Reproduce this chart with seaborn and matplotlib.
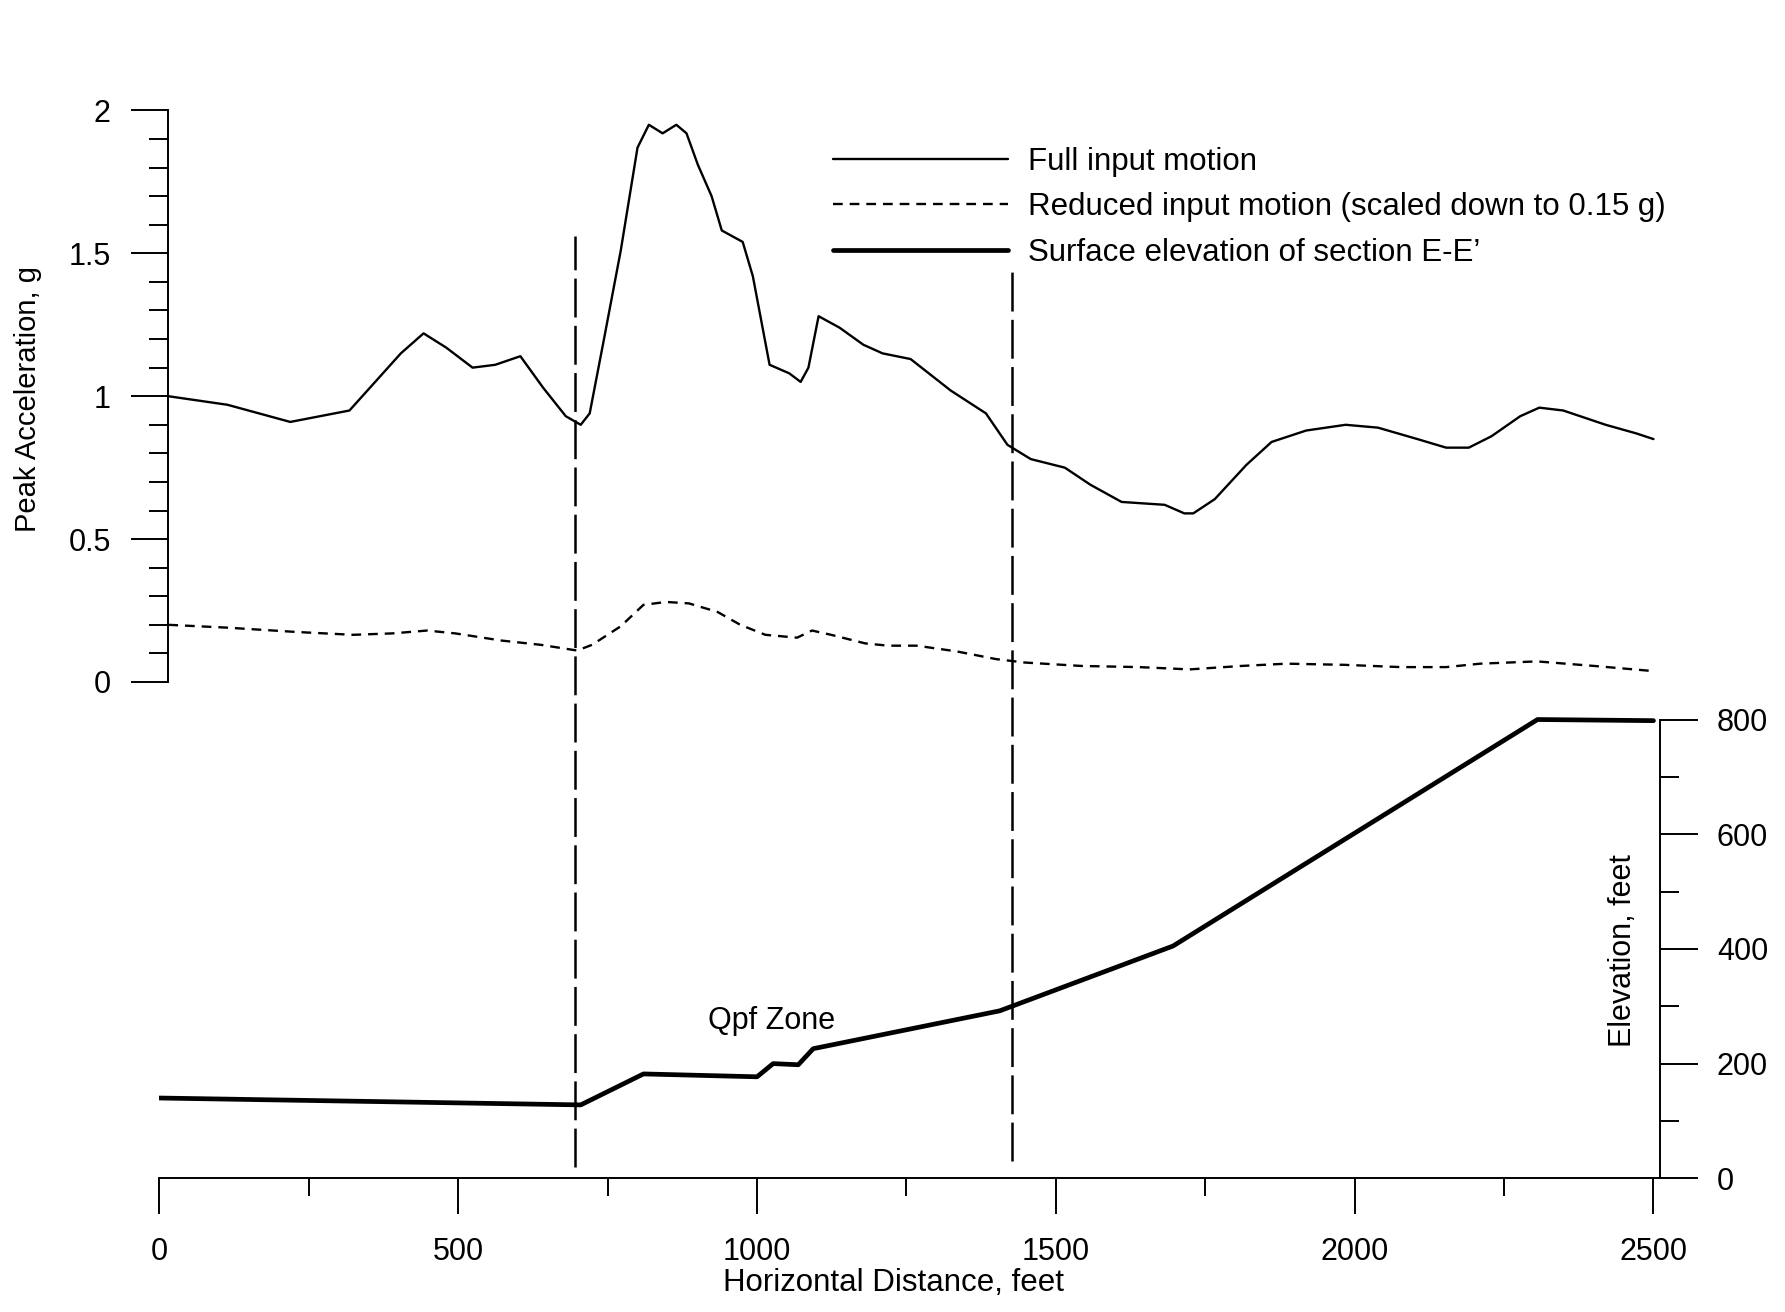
import matplotlib
matplotlib.use("Agg")
import matplotlib.pyplot as plt
import seaborn as sns
import numpy as np
from matplotlib.lines import Line2D
from matplotlib.ticker import FixedLocator

# ---------------- data ----------------
dist_full = [15, 114, 219, 318, 404, 442, 480, 524, 562, 604, 642, 680, 705, 720,
             743, 772, 800, 819, 842, 865, 882, 901, 924, 941, 976, 993, 1021,
             1054, 1073, 1086, 1103, 1138, 1178, 1210, 1257, 1324, 1383, 1419,
             1458, 1515, 1558, 1610, 1682, 1715, 1730, 1766, 1819, 1861, 1919,
             1985, 2039, 2105, 2153, 2191, 2229, 2277, 2309, 2349, 2420, 2471, 2500]
acc_full = [1.00, 0.97, 0.91, 0.95, 1.15, 1.22, 1.17, 1.10, 1.11, 1.14, 1.03, 0.93,
            0.90, 0.94, 1.19, 1.51, 1.87, 1.95, 1.92, 1.95, 1.92, 1.81, 1.70, 1.58,
            1.54, 1.42, 1.11, 1.08, 1.05, 1.10, 1.28, 1.24, 1.18, 1.15, 1.13, 1.02,
            0.94, 0.83, 0.78, 0.75, 0.69, 0.63, 0.62, 0.59, 0.59, 0.64, 0.76, 0.84,
            0.88, 0.90, 0.89, 0.85, 0.82, 0.82, 0.86, 0.93, 0.96, 0.95, 0.90, 0.87,
            0.85]

dist_reduced = [15, 114, 229, 324, 390, 448, 495, 572, 638, 699, 724, 772, 810, 848,
                886, 934, 972, 1014, 1067, 1092, 1124, 1181, 1219, 1267, 1334, 1400,
                1448, 1543, 1639, 1724, 1810, 1886, 1982, 2077, 2153, 2210, 2305,
                2401, 2500]
acc_reduced = [0.20, 0.19, 0.175, 0.165, 0.17, 0.18, 0.17, 0.145, 0.13, 0.11, 0.13,
               0.195, 0.27, 0.28, 0.275, 0.245, 0.20, 0.165, 0.155, 0.18, 0.165,
               0.135, 0.127, 0.127, 0.107, 0.08, 0.068, 0.056, 0.052, 0.044, 0.056,
               0.064, 0.06, 0.052, 0.052, 0.064, 0.072, 0.056, 0.038]

dist_elev = [0, 705, 810, 1000, 1027, 1069, 1094, 1406, 1696, 2306, 2500]
elevation = [140, 128, 182, 177, 200, 198, 226, 292, 405, 800, 798]

boundary_x = [695, 1427]          # vertical dashed lines (Qpf zone limits)

x_ticks = [0, 500, 1000, 1500, 2000, 2500]
x_minor = [250, 750, 1250, 1750, 2250]
acc_ticks = [0, 0.5, 1, 1.5, 2]
acc_tick_labels = ["0", "0.5", "1", "1.5", "2"]
elev_ticks = [0, 200, 400, 600, 800]
elev_minor = [100, 300, 500, 700]

legend_labels = ["Full input motion",
                 "Reduced input motion (scaled down to 0.15 g)",
                 "Surface elevation of section E-E\u2019"]

# ---------------- style ----------------
sns.set_theme(style="white")
plt.rcParams["font.family"] = ["Liberation Sans", "DejaVu Sans"]
plt.rcParams["lines.scale_dashes"] = False
plt.rcParams["text.color"] = "black"

fig = plt.figure(figsize=(17.85, 13.12), dpi=100)
fig.patch.set_facecolor("white")
ax = fig.add_axes([0.0893, 0.1019, 0.8407, 0.8139])
ax2 = ax.twinx()

# acceleration curves (left scale)
sns.lineplot(x=dist_full, y=acc_full, ax=ax, color="black", lw=1.7,
             estimator=None, sort=False)
sns.lineplot(x=dist_reduced, y=acc_reduced, ax=ax, color="black", lw=1.7,
             linestyle=(0, (7, 5)), estimator=None, sort=False)
# elevation profile (right scale)
sns.lineplot(x=dist_elev, y=elevation, ax=ax2, color="black", lw=3.4,
             estimator=None, sort=False)

# Qpf zone boundaries
for bx, (y0, y1) in zip(boundary_x, [(0.011, 0.882), (0.016, 0.853)]):
    ax2.axvline(bx, ymin=y0, ymax=y1, color="black", lw=1.8,
                linestyle=(0, (28, 6)))

ax2.text(1025, 274, "Qpf Zone", ha="center", va="center", fontsize=22)

# limits
ax.set_xlim(0, 2511)
ax.set_ylim(-1.737, 2)
ax2.set_ylim(0, 1862)

# spines
for a in (ax, ax2):
    for s in a.spines.values():
        s.set_color("black")
        s.set_linewidth(1.4)
ax.spines["top"].set_visible(False)
ax.spines["right"].set_visible(False)
ax.spines["left"].set_bounds(0, 2)
ax.spines["left"].set_position(("data", 14))
ax2.spines["top"].set_visible(False)
ax2.spines["left"].set_visible(False)
ax2.spines["bottom"].set_visible(False)
ax2.spines["right"].set_bounds(0, 800)

# ticks
ax.set_xticks(x_ticks)
ax.xaxis.set_minor_locator(FixedLocator(x_minor))
ax.set_yticks(acc_ticks)
ax.set_yticklabels(acc_tick_labels)
acc_minor = [v for v in np.round(np.arange(0, 2.01, 0.1), 2) if v not in acc_ticks]
ax.yaxis.set_minor_locator(FixedLocator(acc_minor))
ax2.set_yticks(elev_ticks)
ax2.yaxis.set_minor_locator(FixedLocator(elev_minor))

ax.tick_params(axis="x", which="major", bottom=True, direction="out", length=26,
               width=1.4, color="black", labelsize=22, pad=16, labelcolor="black")
ax.tick_params(axis="x", which="minor", bottom=True, direction="out", length=13,
               width=1.4, color="black")
ax.tick_params(axis="y", which="major", left=True, direction="out", length=27,
               width=1.4, color="black", labelsize=22, pad=14, labelcolor="black")
ax.tick_params(axis="y", which="minor", left=True, direction="out", length=14,
               width=1.4, color="black")
ax2.tick_params(axis="y", which="major", right=True, direction="out", length=27,
                width=1.4, color="black", labelsize=22, pad=14, labelcolor="black")
ax2.tick_params(axis="y", which="minor", right=True, direction="out", length=14,
                width=1.4, color="black")

# axis labels
ax.set_xlabel("Horizontal Distance, feet", fontsize=22.5, color="black")
ax.xaxis.set_label_coords(0.489, -0.084)
ax.xaxis.label.set_va("top")
ax.set_ylabel("")
ax2.set_ylabel("")
ax.text(-0.0873, 0.730, "Peak Acceleration, g", transform=ax.transAxes,
        rotation=90, ha="center", va="center", fontsize=21)
ax2.text(0.975, 0.213, "Elevation, feet", transform=ax2.transAxes,
         rotation=90, ha="center", va="center", fontsize=22)

# legend
handles = [Line2D([], [], color="black", lw=1.7),
           Line2D([], [], color="black", lw=1.7, linestyle=(0, (7, 5))),
           Line2D([], [], color="black", lw=3.4)]
ax2.legend(handles=handles, labels=legend_labels, loc="upper left",
           bbox_to_anchor=(0.449, 0.966), frameon=False, fontsize=22.5,
           handlelength=5.6, handletextpad=0.62, labelspacing=0.5,
           borderpad=0, borderaxespad=0)

fig.savefig("out.png", dpi=100, facecolor="white")
